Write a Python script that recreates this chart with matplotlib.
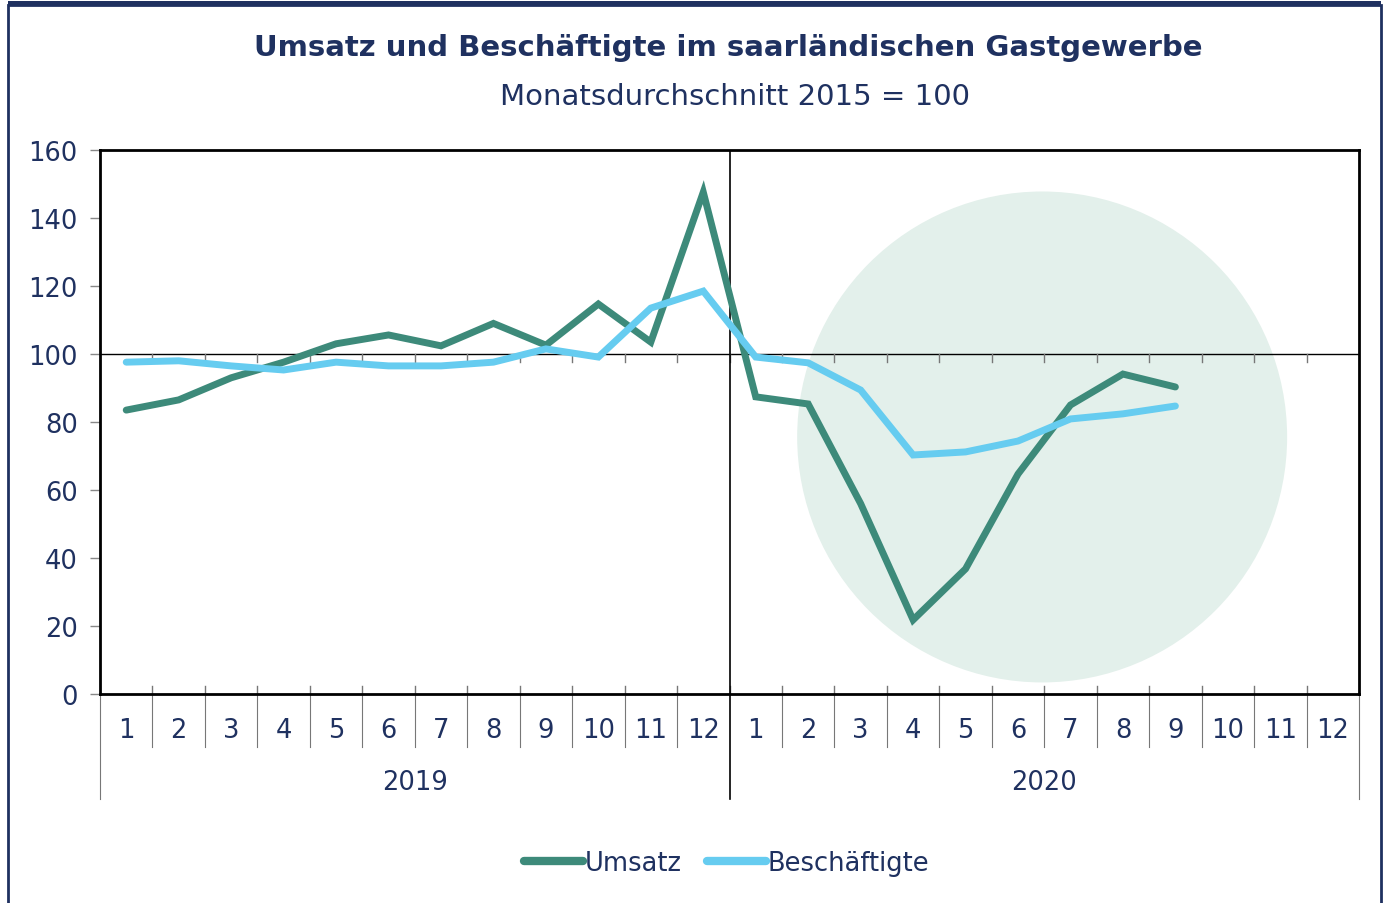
import matplotlib.pyplot as plt
import matplotlib.transforms as mtransforms
from matplotlib.lines import Line2D
from matplotlib.patches import Ellipse, Rectangle

NAVY = '#1f3160'
GREEN = '#3d8a7a'
BLUE = '#66ccf0'

years = ['2019', '2020']
months = [str(m) for m in range(1, 13)]

umsatz_2019 = [83.5, 86.5, 93.0, 97.6, 103.0, 105.6, 102.4, 109.0, 102.6, 114.7, 103.5, 147.6]
umsatz_2020 = [87.4, 85.3, 56.0, 21.8, 36.8, 64.7, 85.0, 94.1, 90.3]
besch_2019 = [97.6, 98.0, 96.5, 95.3, 97.6, 96.5, 96.5, 97.6, 101.5, 99.1, 113.5, 118.5]
besch_2020 = [99.1, 97.4, 89.4, 70.3, 71.2, 74.4, 80.9, 82.4, 84.7]


def main():
    umsatz = umsatz_2019 + umsatz_2020
    besch = besch_2019 + besch_2020
    n_cat = len(years) * len(months)

    fig = plt.figure(figsize=(13.89, 9.04), dpi=100)
    ax = fig.add_axes([100 / 1389, 1 - 695 / 904, 1259 / 1389, 544 / 904])

    # outer frame of the graphic
    fig.patches.append(Rectangle((8 / 1389, -0.02), 1373 / 1389, 1.02 - 6 / 904,
                                 transform=fig.transFigure, fill=False,
                                 edgecolor=NAVY, lw=2))
    fig.patches.append(Rectangle((8 / 1389, 1 - 6 / 904), 1373 / 1389, 4 / 904,
                                 transform=fig.transFigure, color=NAVY, lw=0))

    # highlight circle behind the 2020 values
    ax.add_patch(Ellipse((17.46, 75.6), 9.34, 144.4, facecolor='#e3f0eb',
                         edgecolor='none', zorder=0))

    x = list(range(len(umsatz)))
    ax.plot(x, umsatz, color=GREEN, lw=5, solid_capstyle='round',
            solid_joinstyle='miter', label='Umsatz', zorder=3)
    ax.plot(list(range(len(besch))), besch, color=BLUE, lw=5,
            solid_capstyle='round', solid_joinstyle='miter',
            label='Beschäftigte', zorder=3)

    ax.set_xlim(-0.5, n_cat - 0.5)
    ax.set_ylim(0, 160)
    ax.set_yticks(range(0, 161, 20))
    ax.tick_params(axis='y', colors='#888888', labelcolor=NAVY, labelsize=18.5,
                   length=7, width=1, pad=9)
    ax.set_xticks([])
    for s in ax.spines.values():
        s.set_color('black')
        s.set_linewidth(2)

    # 100 line with ticks at month boundaries
    ax.axhline(100, color='black', lw=1, zorder=2)
    for b in range(1, n_cat):
        ax.plot([b - 0.5, b - 0.5], [100, 97.5], color='#777777', lw=1, zorder=2)
        ax.plot([b - 0.5, b - 0.5], [0, 2.5], color='#777777', lw=1, zorder=2)
    ax.axvline(11.5, color='black', lw=1.2, zorder=2)

    # two-level category axis
    trans = mtransforms.blended_transform_factory(ax.transData, ax.transAxes)
    for i in range(n_cat):
        ax.text(i, -0.066, months[i % 12], transform=trans, ha='center',
                va='center', fontsize=18.5, color=NAVY)
    for b in range(1, n_cat):
        if b % 12 == 0:
            continue
        ax.add_line(Line2D([b - 0.5, b - 0.5], [0, -0.097], transform=trans,
                           color='#777777', lw=0.8, clip_on=False))
    for k, yr in enumerate(years):
        ax.text(k * 12 + 5.5, -0.162, yr, transform=trans, ha='center',
                va='center', fontsize=18.5, color=NAVY)
    for b in (-0.5, 11.5, 23.5):
        col = 'black' if b == 11.5 else '#777777'
        ax.add_line(Line2D([b, b], [0, -0.193], transform=trans, color=col,
                           lw=1.2 if b == 11.5 else 0.8, clip_on=False))

    fig.text(0.524, 1 - 48 / 904, 'Umsatz und Beschäftigte im saarländischen Gastgewerbe',
             ha='center', va='center', fontsize=21, fontweight='bold', color=NAVY)
    fig.text(0.529, 1 - 97 / 904, 'Monatsdurchschnitt 2015 = 100',
             ha='center', va='center', fontsize=21, color=NAVY)

    leg = fig.legend(loc='center', bbox_to_anchor=(0.523, 1 - 864 / 904),
                     ncol=2, frameon=False, fontsize=18.5, handlelength=2.3,
                     handletextpad=0.05, columnspacing=1.0)
    for t in leg.get_texts():
        t.set_color(NAVY)
    for h in leg.get_lines():
        h.set_linewidth(6)

    fig.savefig('out.png', dpi=100)


if __name__ == '__main__':
    main()
